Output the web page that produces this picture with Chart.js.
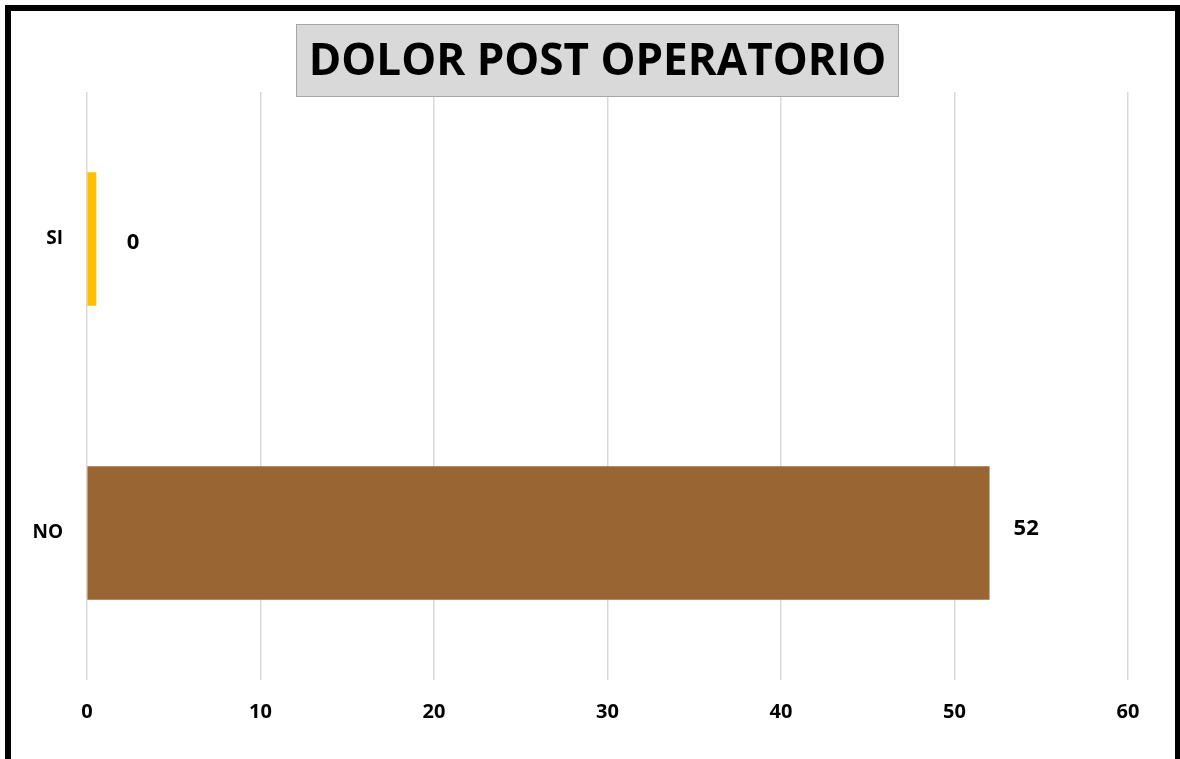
<!DOCTYPE html>
<html>
<head>
<meta charset="utf-8">
<script src="https://cdn.jsdelivr.net/npm/chart.js@4.4.1/dist/chart.umd.min.js"></script>
<style>
html,body{margin:0;padding:0;background:#fff;}
#wrap{position:relative;width:1180px;height:759px;}
</style>
</head>
<body>
<div id="wrap"><canvas id="c" width="1180" height="759"></canvas></div>
<script>
const titleText = "DOLOR POST OPERATORIO";
const categories = ["SI", "NO"];
const values = [0, 52];
const barColors = ["#FFC000", "#996633"];
const xTicks = [0, 10, 20, 30, 40, 50, 60];

const FONT = "'Open Sans', 'DejaVu Sans', sans-serif";

const decor = {
  id: 'decor',
  beforeDraw(chart) {
    const ctx = chart.ctx;
    ctx.save();
    ctx.fillStyle = '#fff';
    ctx.fillRect(0, 0, chart.width, chart.height);
    ctx.fillStyle = '#000';
    ctx.fillRect(5, 5, 6, chart.height);
    ctx.fillRect(5, 5, chart.width - 5, 6);
    ctx.fillRect(chart.width - 5, 5, 5, chart.height);
    ctx.restore();
  },
  afterDraw(chart) {
    const ctx = chart.ctx;
    ctx.save();
    const bx = 296, by = 24, bw = 603, bh = 73;
    ctx.fillStyle = '#D9D9D9';
    ctx.fillRect(bx, by, bw, bh);
    ctx.strokeStyle = '#A6A6A6';
    ctx.lineWidth = 1;
    ctx.strokeRect(bx + 0.5, by + 0.5, bw - 1, bh - 1);
    let size = 44;
    ctx.font = `bold ${size}px ${FONT}`;
    const w = ctx.measureText(titleText).width;
    size = Math.min(44, size * 582 / w);
    ctx.font = `bold ${size}px ${FONT}`;
    ctx.fillStyle = '#000';
    ctx.textAlign = 'center';
    ctx.textBaseline = 'middle';
    ctx.fillText(titleText, bx + bw / 2, by + bh / 2 + 2);
    const meta = chart.getDatasetMeta(0);
    ctx.font = `bold 22px ${FONT}`;
    ctx.textAlign = 'center';
    meta.data.forEach((el, i) => {
      ctx.fillText(String(values[i]), el.x + 37, el.y + (i === 0 ? 4 : -4));
    });
    ctx.restore();
  }
};

new Chart(document.getElementById('c'), {
  type: 'bar',
  data: {
    labels: categories,
    datasets: [{
      data: values,
      backgroundColor: barColors,
      borderWidth: 0,
      barThickness: 133,
      minBarLength: 9
    }]
  },
  options: {
    indexAxis: 'y',
    responsive: false,
    animation: false,
    events: [],
    layout: { padding: { left: 0, top: 92, right: 52, bottom: 0 } },
    plugins: { legend: { display: false }, tooltip: { enabled: false }, title: { display: false } },
    scales: {
      x: {
        min: 0, max: 60,
        afterBuildTicks(scale) { scale.ticks = xTicks.map(v => ({ value: v })); },
        afterFit(scale) { scale.height = 79; },
        grid: { color: '#D9D9D9', lineWidth: 1.5, drawTicks: false },
        border: { display: false },
        ticks: { color: '#000', padding: 20, font: { family: FONT, weight: 'bold', size: 20 } }
      },
      y: {
        afterFit(scale) { scale.width = 87; },
        grid: { display: false, drawTicks: false },
        border: { display: false },
        ticks: { color: '#000', padding: 24, font: { family: FONT, weight: 'bold', size: 19 } }
      }
    }
  },
  plugins: [decor]
});
</script>
</body>
</html>
